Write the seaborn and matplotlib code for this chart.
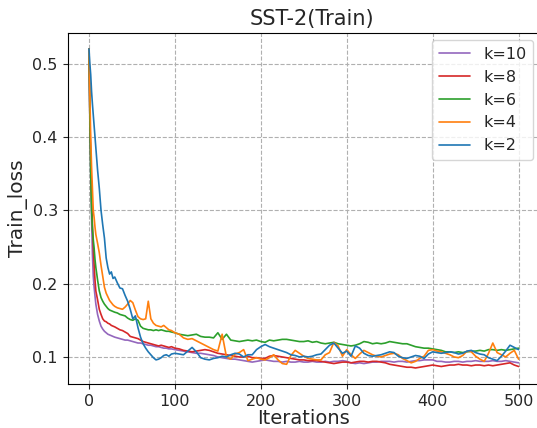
import matplotlib
matplotlib.use("Agg")
import matplotlib.pyplot as plt
import pandas as pd
import seaborn as sns

# iteration index of each sample
ITERS = [0, 1, 2, 3, 4, 5, 6, 7, 8,
         10, 12, 14, 16, 18, 20, 22, 24, 26, 28, 30,
         33, 36, 39, 42, 45, 48, 51, 54, 57, 60, 63, 66, 69, 72, 75, 78, 81, 84, 87, 90, 93, 96, 100,
         105, 110, 115, 120, 125, 130, 135, 140, 145, 150, 155, 160, 165, 170, 175, 180, 185, 190, 195, 200, 205,
         210, 215, 220, 225, 230, 235, 240, 245, 250, 255, 260, 265, 270, 275, 280, 285, 290, 295, 300,
         305, 310, 315, 320, 325, 330, 335, 340, 345, 350, 355, 360, 365, 370, 375, 380, 385, 390, 395, 400,
         405, 410, 415, 420, 425, 430, 435, 440, 445, 450, 455, 460, 465, 470, 475, 480, 485, 490, 495, 500]

LOSS_K2 = [0.520, 0.500, 0.485, 0.462, 0.445, 0.430, 0.415, 0.400, 0.385,
           0.355, 0.330, 0.300, 0.280, 0.262, 0.235, 0.222, 0.213, 0.216, 0.207, 0.209,
           0.201, 0.194, 0.193, 0.184, 0.176, 0.165, 0.152, 0.156, 0.140, 0.127, 0.118, 0.112, 0.107,
           0.103, 0.099, 0.096, 0.097, 0.099, 0.102, 0.103, 0.101, 0.104, 0.105,
           0.104, 0.103, 0.108, 0.113, 0.107, 0.099, 0.097, 0.096, 0.098, 0.099, 0.101, 0.100,
           0.103, 0.105, 0.104, 0.100, 0.103, 0.103, 0.110, 0.114, 0.117,
           0.114, 0.112, 0.110, 0.108, 0.106, 0.103, 0.102, 0.100, 0.101, 0.100, 0.101, 0.103,
           0.104, 0.110, 0.116, 0.119, 0.112, 0.105, 0.108,
           0.101, 0.115, 0.112, 0.105, 0.102, 0.101, 0.102, 0.103, 0.105, 0.107, 0.106, 0.101,
           0.099, 0.098, 0.100, 0.102, 0.101, 0.098, 0.104, 0.107,
           0.106, 0.105, 0.106, 0.107, 0.106, 0.104, 0.105, 0.108, 0.109, 0.106, 0.104, 0.103,
           0.099, 0.097, 0.095, 0.101, 0.108, 0.116, 0.113, 0.110]

LOSS_K4 = [0.520, 0.460, 0.400, 0.360, 0.330, 0.300, 0.290, 0.277, 0.267,
           0.255, 0.242, 0.225, 0.210, 0.195, 0.187, 0.182, 0.177, 0.174, 0.171, 0.169,
           0.167, 0.166, 0.165, 0.168, 0.172, 0.177, 0.174, 0.164, 0.155, 0.152, 0.151, 0.152, 0.176,
           0.152, 0.146, 0.143, 0.142, 0.141, 0.143, 0.140, 0.137, 0.136, 0.133,
           0.131, 0.126, 0.124, 0.125, 0.122, 0.119, 0.116, 0.113, 0.110, 0.108, 0.131, 0.100,
           0.097, 0.104, 0.106, 0.110, 0.095, 0.097, 0.099, 0.097, 0.096,
           0.099, 0.103, 0.096, 0.091, 0.090, 0.102, 0.109, 0.105, 0.101, 0.098, 0.097, 0.096,
           0.096, 0.103, 0.106, 0.120, 0.115, 0.101, 0.110,
           0.103, 0.098, 0.104, 0.109, 0.106, 0.103, 0.101, 0.100, 0.102, 0.104, 0.105, 0.103,
           0.098, 0.095, 0.092, 0.094, 0.098, 0.101, 0.109, 0.110,
           0.108, 0.107, 0.105, 0.103, 0.100, 0.099, 0.102, 0.108, 0.107, 0.101, 0.097, 0.094,
           0.105, 0.119, 0.106, 0.103, 0.100, 0.105, 0.109, 0.097]

LOSS_K6 = [0.520, 0.430, 0.350, 0.300, 0.275, 0.260, 0.248, 0.233, 0.222,
           0.205, 0.190, 0.181, 0.176, 0.172, 0.169, 0.166, 0.164, 0.163, 0.162, 0.161,
           0.160, 0.158, 0.157, 0.156, 0.153, 0.151, 0.150, 0.152, 0.150, 0.142, 0.139, 0.138, 0.137,
           0.137, 0.136, 0.137, 0.136, 0.137, 0.136, 0.135, 0.135, 0.134, 0.133,
           0.131, 0.130, 0.129, 0.130, 0.131, 0.128, 0.127, 0.127, 0.126, 0.133, 0.124, 0.131,
           0.123, 0.122, 0.121, 0.122, 0.123, 0.122, 0.123, 0.121, 0.120,
           0.123, 0.122, 0.123, 0.124, 0.124, 0.123, 0.122, 0.121, 0.121, 0.122, 0.120, 0.121,
           0.119, 0.118, 0.119, 0.120, 0.118, 0.117, 0.116,
           0.115, 0.116, 0.118, 0.121, 0.120, 0.118, 0.119, 0.118, 0.119, 0.121, 0.120, 0.119,
           0.118, 0.118, 0.116, 0.114, 0.113, 0.112, 0.112, 0.111,
           0.110, 0.109, 0.107, 0.107, 0.106, 0.107, 0.106, 0.107, 0.108, 0.108, 0.109, 0.108,
           0.110, 0.110, 0.109, 0.110, 0.109, 0.110, 0.111, 0.112]

LOSS_K8 = [0.520, 0.430, 0.370, 0.320, 0.280, 0.250, 0.225, 0.205, 0.190,
           0.178, 0.165, 0.158, 0.152, 0.149, 0.148, 0.146, 0.145, 0.143, 0.142, 0.141,
           0.139, 0.137, 0.136, 0.134, 0.132, 0.128, 0.127, 0.126, 0.125, 0.123, 0.121, 0.120, 0.119,
           0.118, 0.117, 0.116, 0.115, 0.116, 0.115, 0.114, 0.113, 0.114, 0.112,
           0.111, 0.109, 0.108, 0.107, 0.108, 0.109, 0.110, 0.109, 0.107, 0.105, 0.104, 0.103,
           0.102, 0.101, 0.100, 0.100, 0.101, 0.099, 0.099, 0.098, 0.098,
           0.101, 0.102, 0.101, 0.100, 0.099, 0.098, 0.097, 0.096, 0.096, 0.095, 0.095, 0.095,
           0.094, 0.093, 0.092, 0.091, 0.092, 0.093, 0.093,
           0.092, 0.093, 0.094, 0.094, 0.093, 0.094, 0.094, 0.093, 0.092, 0.090, 0.089, 0.088,
           0.087, 0.086, 0.086, 0.085, 0.086, 0.087, 0.088, 0.089,
           0.088, 0.087, 0.088, 0.089, 0.089, 0.090, 0.089, 0.089, 0.088, 0.089, 0.089, 0.088,
           0.089, 0.088, 0.089, 0.090, 0.091, 0.092, 0.089, 0.087]

LOSS_K10 = [0.520, 0.420, 0.350, 0.290, 0.240, 0.210, 0.195, 0.183, 0.172,
            0.158, 0.149, 0.142, 0.138, 0.135, 0.133, 0.131, 0.130, 0.129, 0.128, 0.127,
            0.126, 0.125, 0.124, 0.123, 0.123, 0.122, 0.121, 0.120, 0.119, 0.119, 0.118, 0.117, 0.116,
            0.116, 0.115, 0.114, 0.114, 0.113, 0.112, 0.112, 0.111, 0.111, 0.110,
            0.109, 0.108, 0.107, 0.106, 0.105, 0.105, 0.104, 0.103, 0.102, 0.100, 0.099, 0.098,
            0.097, 0.097, 0.096, 0.095, 0.094, 0.093, 0.094, 0.095, 0.096,
            0.095, 0.094, 0.094, 0.093, 0.094, 0.093, 0.093, 0.094, 0.093, 0.093, 0.094, 0.093,
            0.093, 0.094, 0.093, 0.094, 0.094, 0.095, 0.094,
            0.092, 0.091, 0.092, 0.091, 0.092, 0.093, 0.093, 0.094, 0.094, 0.094, 0.093, 0.094,
            0.094, 0.093, 0.094, 0.095, 0.095, 0.096, 0.096, 0.096,
            0.094, 0.094, 0.093, 0.093, 0.094, 0.094, 0.093, 0.094, 0.094, 0.095, 0.094, 0.094,
            0.094, 0.095, 0.094, 0.094, 0.095, 0.094, 0.093, 0.092]

SERIES = {"k=10": LOSS_K10, "k=8": LOSS_K8, "k=6": LOSS_K6, "k=4": LOSS_K4, "k=2": LOSS_K2}
COLORS = {"k=10": "#9467bd", "k=8": "#d62728", "k=6": "#2ca02c", "k=4": "#ff7f0e", "k=2": "#1f77b4"}

sns.set_style("ticks")
plt.rcParams["font.family"] = ["DejaVu Sans"]

df = pd.concat([pd.DataFrame({"iter": ITERS, "loss": vals, "k": name})
                for name, vals in SERIES.items()], ignore_index=True)

fig = plt.figure(figsize=(5.37, 4.28), dpi=100)
# the reference is cropped just past the right spine
ax = fig.add_axes([0.1257, 0.103, 0.880, 0.820])
sns.lineplot(data=df, x="iter", y="loss", hue="k", hue_order=list(SERIES),
             palette=COLORS, estimator=None, sort=False, linewidth=1.2, ax=ax)

ax.grid(True, linestyle="--", color="#b0b0b0", linewidth=0.8)
ax.set_xticks([0, 100, 200, 300, 400, 500])
ax.set_yticks([0.1, 0.2, 0.3, 0.4, 0.5])
ax.tick_params(labelsize=11.5)
ax.set_xlabel("Iterations", fontsize=14, labelpad=0)
ax.set_ylabel("Train_loss", fontsize=14.5, labelpad=3)
ax.set_title("SST-2(Train)", fontsize=15, x=0.518)
handles, labels = ax.get_legend_handles_labels()
ax.legend(handles, labels, loc="upper right", fontsize=11.5, frameon=True,
          labelspacing=0.5, borderaxespad=0.45)
for s in ax.spines.values():
    s.set_color("black")

fig.savefig("out.png", dpi=100)
